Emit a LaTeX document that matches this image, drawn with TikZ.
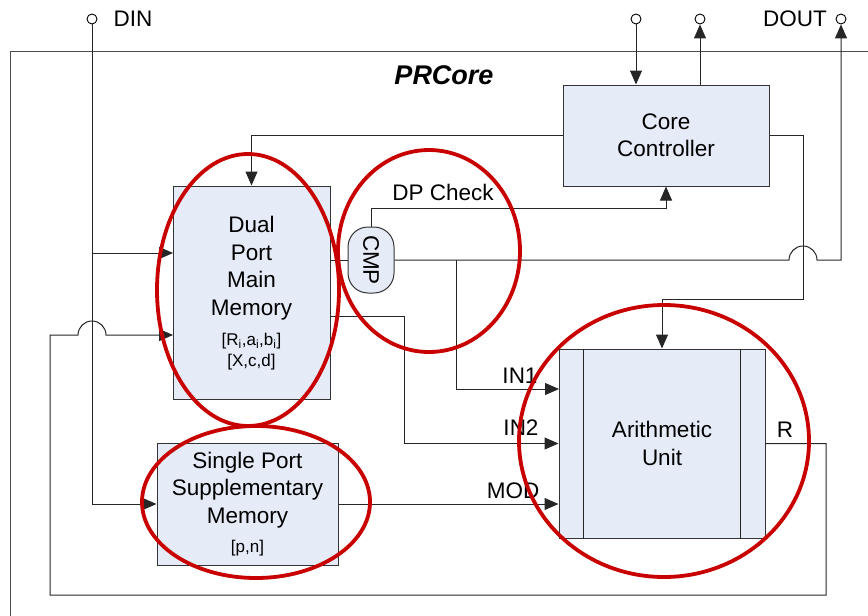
\documentclass[tikz,border=0pt]{standalone}
\usepackage{fontspec}
\setmainfont{Liberation Sans}
\usetikzlibrary{arrows.meta}
\definecolor{boxblue}{RGB}{229,235,247}
\definecolor{markred}{RGB}{200,0,0}
\tikzset{
blk/.style={rectangle,draw=black!80,fill=boxblue,line width=1pt,inner sep=0pt},
txt/.style={font=\fontsize{22.5}{27.5}\selectfont,align=center,inner sep=0pt},
small/.style={font=\fontsize{17}{21}\selectfont,align=center,inner sep=0pt},
wire/.style={line width=1pt,draw=black!85},
arr/.style={wire,-{Triangle[length=14pt,width=12pt]}},
pin/.style={circle,draw,fill=white,line width=0.9pt,minimum size=10pt,inner sep=0pt},
ring/.style={draw=markred,line width=3.8pt}
}
\begin{document}
\begin{tikzpicture}[x=1pt,y=-1pt]
\useasboundingbox (0,0) rectangle (868,616);
\draw[wire,draw=black!70] (868,51) -| (10,616);
\node[txt,font=\fontsize{27}{30}\selectfont\bfseries\itshape] (title) at (444,75) {PRCore};

\node[pin] (din) at (92,19) {};
\node[txt] (din-lbl) at (133,19) {DIN};
\node[pin] (ctl-in) at (636,19) {};
\node[pin] (ctl-out) at (700,19) {};
\node[pin] (dout) at (841,19) {};
\node[txt] (dout-lbl) at (795,19) {DOUT};

\node[blk,txt,minimum width=206pt,minimum height=101pt] (ctl) at (666,135.5) {Core\\Controller};
\node[blk,minimum width=157pt,minimum height=213pt] (dpmm) at (251.5,292.5) {};
\node[txt] (dpmm-name) at (251.5,268) {Dual\\Port\\Main\\Memory};
\node[small] (dpmm-regs) at (251.5,351.5) {[R\textsubscript{i},a\textsubscript{i},b\textsubscript{i}]\\{[X,c,d]}};
\node[blk,minimum width=181pt,minimum height=122pt] (spsm) at (247.5,504) {};
\node[txt] (spsm-name) at (247.5,490) {Single Port\\Supplementary\\Memory};
\node[small] (spsm-regs) at (247.5,548) {[p,n]};
\node[blk,txt,minimum width=206pt,minimum height=189pt] (au) at (662,443.5) {Arithmetic\\Unit};
\draw[wire] ([xshift=25pt]au.north west) -- ([xshift=25pt]au.south west)
([xshift=-25pt]au.north east) -- ([xshift=-25pt]au.south east);
\node[blk,txt,rounded corners=20pt,minimum width=46pt,minimum height=66pt] (cmp) at (371,260) {\rotatebox{-90}{CMP}};

\coordinate (tap) at (456,260);
\coordinate (hop1) at (789,260);
\coordinate (bus) at (803,299);
\coordinate (dp-in1) at (173,253);
\coordinate (dp-in2) at (173,335);
\coordinate (dp-out) at (330,316);
\coordinate (hop2) at (78,335);
\coordinate (ret) at (826,595);
\coordinate (ret-up) at (50,335);
\coordinate (au-in1) at (559,389);

\draw[arr] (din.south) |- (spsm.west);
\draw[arr] (din.south |- dp-in1) -- (dp-in1);
\draw[arr] (ctl-in) -- (ctl-in |- ctl.north);
\draw[arr] (ctl-out |- ctl.north) -- (ctl-out);
\draw[arr] (ctl.west) -| (dpmm.north);
\draw[wire] (dpmm.east |- cmp.west) -- (cmp.west);
\draw[arr] (cmp.north) -- ++(0,-18) -| (ctl.south);
\draw[arr] (cmp.east) -- (hop1) arc[start angle=180,end angle=0,radius=14pt] -| (dout);
\draw[arr] (ctl.east) -| (bus) -| (au.north);
\draw[arr] (tap) |- (au-in1);
\draw[arr] (dp-out) -- ++(74,0) |- (au.west);
\draw[arr] (spsm.east) -- (spsm.east -| au.west);
\draw[arr] (au.east) -| (ret) -| (ret-up) -- (hop2) arc[start angle=180,end angle=0,radius=14pt] -- (dp-in2);

\node[txt] (in1) at (520,376) {IN1};
\node[txt] (in2) at (521,428) {IN2};
\node[txt] (mod) at (513,491) {MOD};
\node[txt] (r-lbl) at (785,430) {R};
\node[txt] (dpcheck) at (443,192) {DP Check};

\draw[ring] (248,290) ellipse [x radius=91pt,y radius=136pt];
\draw[ring] (429,251) ellipse [x radius=91pt,y radius=101pt];
\draw[ring] (256,502) ellipse [x radius=114pt,y radius=76pt];
\draw[ring] (664,441) ellipse [x radius=145pt,y radius=136pt];
\end{tikzpicture}
\end{document}
